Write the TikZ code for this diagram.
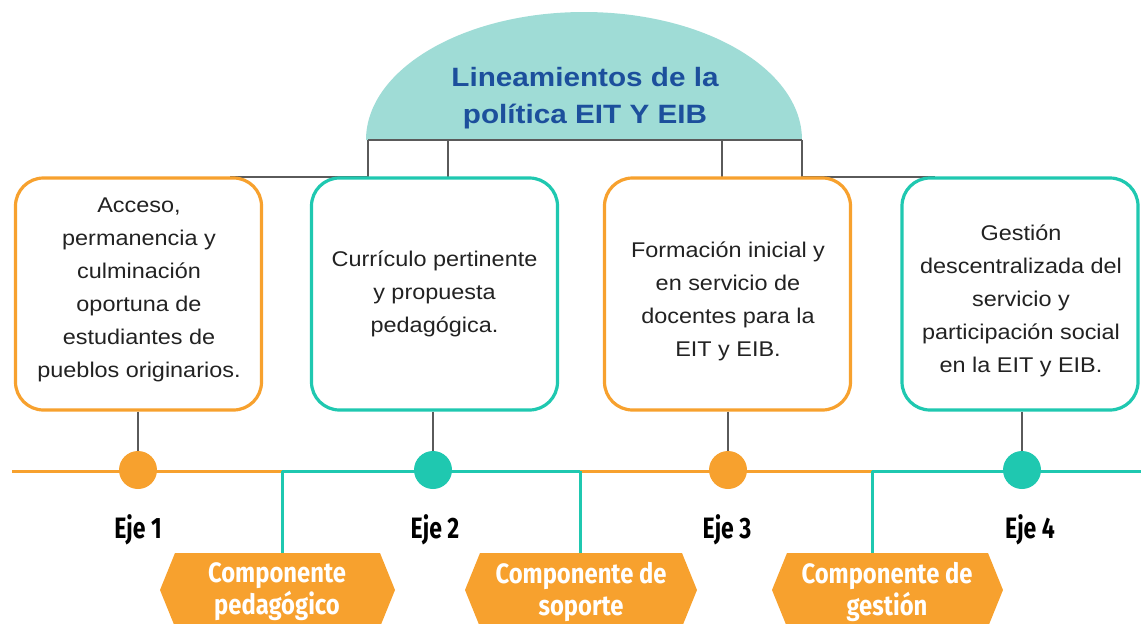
\documentclass[tikz,border=0pt]{standalone}
\usepackage{fontspec}
\setmainfont[FakeStretch=1.1]{Liberation Sans}
\newfontfamily\titlefont[FakeStretch=1.12]{Liberation Sans}
\newfontfamily\condfont[FakeStretch=0.78]{Fira Sans}
\newfontfamily\hexfont[FakeStretch=0.85]{Fira Sans}
\usetikzlibrary{shapes.misc,positioning}
\definecolor{orng}{HTML}{F7A12E}
\definecolor{teal}{HTML}{1FC8B0}
\definecolor{lteal}{HTML}{9FDCD6}
\definecolor{tblue}{HTML}{1C4F9C}
\definecolor{gline}{HTML}{5A5A5A}
\definecolor{txt}{HTML}{222222}
\tikzset{
  box/.style={draw, line width=3.2pt, rounded corners=28pt, fill=white,
    minimum width=246pt, minimum height=232pt, inner sep=0pt},
  boxtext/.style={align=center, inner sep=0pt,
    font=\fontsize{21.3}{33}\selectfont, text=txt},
  obox/.style={box, draw=orng},
  tbox/.style={box, draw=teal},
  gray/.style={draw=gline, line width=2pt},
  dot/.style={circle, minimum size=38pt, inner sep=0pt},
  eje/.style={font=\condfont\bfseries\fontsize{29.5}{30}\selectfont, text=black},
  hexa/.style={fill=orng, draw=none, text=white, align=center,
    font=\hexfont\bfseries\fontsize{28}{32}\selectfont},
  oline/.style={draw=orng, line width=3pt},
  tline/.style={draw=teal, line width=3pt},
}
\begin{document}
\begin{tikzpicture}[x=1pt,y=-1pt]
\useasboundingbox (0,0) rectangle (1141,624);
% semi-ellipse
\fill[lteal] (366,140) arc[start angle=180, end angle=360, x radius=218, y radius=128] -- cycle;
\node[font=\titlefont\bfseries\fontsize{26.5}{37}\selectfont, text=tblue, align=center] (title) at (585,98) {Lineamientos de la\\política EIT Y EIB};
% connector coordinates
\coordinate (c1) at (368,140);
\coordinate (c2) at (448,140);
\coordinate (c3) at (722,140);
\coordinate (c4) at (802,140);
\coordinate (k1) at (230,177);
\coordinate (k4) at (935,177);
\draw[gray] (c1) -- (c4);
\draw[gray] (c2) -- (448,178);
\draw[gray] (c3) -- (722,178);
\draw[gray] (k1) -- (368,177) -- (c1);
\draw[gray] (k4) -- (802,177) -- (c4);
% boxes
\node[obox] (b1) at (138.5,294) {};
\node[tbox] (b2) at (434.5,294) {};
\node[obox] (b3) at (727.5,294) {};
\node[tbox, minimum width=236pt] (b4) at (1020,294) {};
\node[boxtext] (t1) at (139,289.5) {Acceso,\\permanencia y\\culminación\\oportuna de\\estudiantes de\\pueblos originarios.};
\node[boxtext] (t2) at (434.5,294) {Currículo pertinente\\y propuesta\\pedagógica.};
\node[boxtext] (t3) at (728,301.5) {Formación inicial y\\en servicio de\\docentes para la\\EIT y EIB.};
\node[boxtext] (t4) at (1021,300.5) {Gestión\\descentralizada del\\servicio y\\participación social\\en la EIT y EIB.};
% timeline
\coordinate (l0) at (12,471);
\coordinate (l1) at (282,471);
\coordinate (l2) at (580,471);
\coordinate (l3) at (872,471);
\coordinate (l4) at (1141,471);
\draw[oline] (l0) -- (l1);
\draw[tline] (l1) -- (l2);
\draw[oline] (l2) -- (l3);
\draw[tline] (l3) -- (l4);
% dots
\node[dot, fill=orng] (d1) at (138,470) {};
\node[dot, fill=teal] (d2) at (433,470) {};
\node[dot, fill=orng] (d3) at (728,470) {};
\node[dot, fill=teal] (d4) at (1022,470) {};
\draw[gray] (b1.south -| d1) -- (d1);
\draw[gray] (b2.south -| d2) -- (d2);
\draw[gray] (b3.south -| d3) -- (d3);
\draw[gray] (b4.south -| d4) -- (d4);
% labels
\node[eje] (e1) at (138,530) {Eje 1};
\node[eje] (e2) at (435,530) {Eje 2};
\node[eje] (e3) at (727,530) {Eje 3};
\node[eje] (e4) at (1030,530) {Eje 4};
% hexagons
\fill[orng] (175,553) -- (380,553) -- (395,590) -- (380,627) -- (175,627) -- (160,590) -- cycle;
\fill[orng] (480,553) -- (682,553) -- (697,590) -- (682,627) -- (480,627) -- (465,590) -- cycle;
\fill[orng] (787,553) -- (988,553) -- (1003,590) -- (988,627) -- (787,627) -- (772,590) -- cycle;
\node[hexa] (h1) at (277,592) {Componente\\pedagógico};
\node[hexa] (h2) at (581,592) {Componente de\\soporte};
\node[hexa] (h3) at (887,592) {Componente de\\gestión};
\draw[tline] (l1) -- (282,553);
\draw[tline] (l2) -- (580,553);
\draw[tline] (l3) -- (872,553);
\end{tikzpicture}
\end{document}
